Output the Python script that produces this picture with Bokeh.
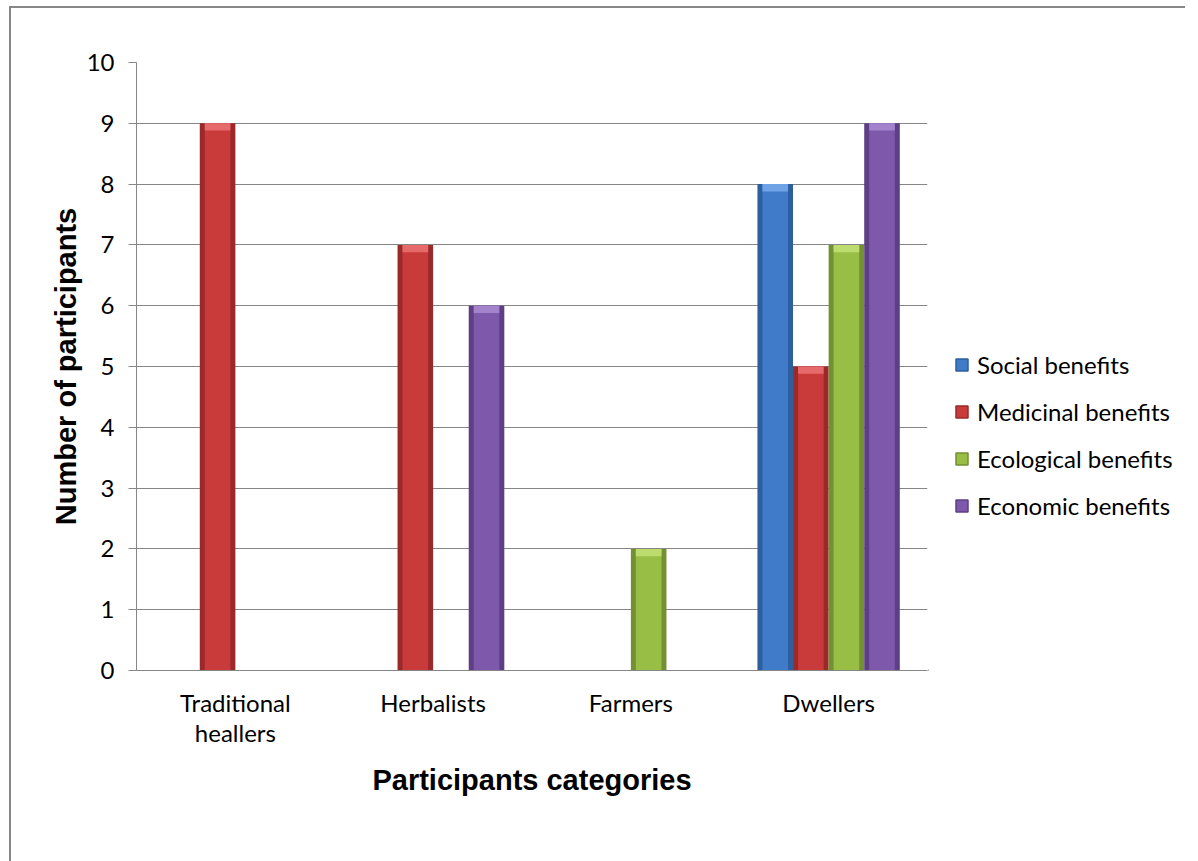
from bokeh.plotting import figure
from bokeh.layouts import row
from bokeh.models import (ColumnDataSource, Legend, LegendItem, Range1d,
                          FixedTicker, LinearAxis)
from bokeh.transform import dodge
from bokeh.embed import file_html
from bokeh.resources import INLINE

categories = ["Traditional heallers", "Herbalists", "Farmers", "Dwellers"]
label_line1 = ["Traditional", "Herbalists", "Farmers", "Dwellers"]
label_line2 = ["heallers", " ", " ", " "]
series_names = ["Social benefits", "Medicinal benefits", "Ecological benefits", "Economic benefits"]
social = [0, 0, 0, 8]
medicinal = [9, 7, 0, 5]
ecological = [0, 0, 2, 7]
economic = [0, 6, 0, 9]
y_ticks = [0, 1, 2, 3, 4, 5, 6, 7, 8, 9, 10]

series_values = [social, medicinal, ecological, economic]
main_colors = ["#3F7BC8", "#C93A3A", "#98BE45", "#7E58AA"]
edge_colors = ["#2D5E9E", "#9A2A2A", "#739033", "#5E3F85"]
cap_colors = ["#6FA3E6", "#E66A6A", "#BCDD6E", "#A283CC"]
offsets = [-0.27, -0.09, 0.09, 0.27]
bar_w = 0.18

GRID = "#868686"
idx = list(range(len(categories)))

p = figure(
    x_range=Range1d(-0.5, len(categories) - 0.5),
    y_range=Range1d(0, 10),
    width=917, height=853,
    output_backend="svg", toolbar_location=None,
    min_border_left=125, min_border_top=54, min_border_right=1, min_border_bottom=191,
)
p.outline_line_color = None
p.background_fill_color = "white"
p.border_fill_color = "white"

for name, vals, mc, ec, cc, off in zip(series_names, series_values, main_colors, edge_colors, cap_colors, offsets):
    src = ColumnDataSource(dict(idx=idx, val=vals, cap=[v - 0.12 if v > 0 else 0 for v in vals]))
    p.vbar(x=dodge("idx", off), top="val", bottom=0, width=bar_w,
           source=src, fill_color=ec, line_color=None)
    p.vbar(x=dodge("idx", off), top="val", bottom=0, width=bar_w * 0.72,
           source=src, fill_color=mc, line_color=None)
    p.vbar(x=dodge("idx", off), top="val", bottom="cap", width=bar_w * 0.72,
           source=src, fill_color=cc, line_color=None)

# y axis
p.yaxis.ticker = FixedTicker(ticks=y_ticks)
p.yaxis.axis_line_color = GRID
p.yaxis.major_tick_line_color = GRID
p.yaxis.major_tick_in = 0
p.yaxis.major_tick_out = 8
p.yaxis.minor_tick_line_color = None
p.yaxis.major_label_text_font = "Lato"
p.yaxis.major_label_text_font_size = "24px"
p.yaxis.major_label_text_color = "black"
p.yaxis.major_label_standoff = 14
p.yaxis.axis_label = "Number of participants"
p.yaxis.axis_label_text_font = "Liberation Sans"
p.yaxis.axis_label_text_font_style = "bold"
p.yaxis.axis_label_text_font_size = "29px"
p.yaxis.axis_label_text_color = "black"
p.yaxis.axis_label_standoff = 2

# x axis (first label line)
xa = p.xaxis[0]
xa.ticker = FixedTicker(ticks=idx)
xa.axis_line_color = GRID
xa.major_tick_line_color = None
xa.minor_tick_line_color = None
xa.major_tick_out = 0
xa.major_tick_in = 0
xa.major_label_overrides = dict(zip(idx, label_line1))
xa.major_label_text_font = "Lato"
xa.major_label_text_font_size = "24px"
xa.major_label_text_color = "black"
xa.major_label_standoff = 17

# second label line + axis title
xa2 = LinearAxis(
    ticker=FixedTicker(ticks=idx),
    axis_line_color=None, major_tick_line_color=None, major_tick_out=0, major_tick_in=0,
    minor_tick_line_color=None,
    major_label_overrides=dict(zip(idx, label_line2)),
    major_label_text_font="Lato", major_label_text_font_size="24px",
    major_label_text_color="black", major_label_standoff=-2,
    axis_label="Participants categories", axis_label_text_font="Liberation Sans",
    axis_label_text_font_style="bold", axis_label_text_font_size="29px",
    axis_label_text_color="black", axis_label_standoff=14,
)
p.add_layout(xa2, "below")

p.xgrid.grid_line_color = None
p.ygrid.grid_line_color = GRID
p.ygrid.grid_line_width = 1

# legend panel (swatch renderers sit outside the visible range; only their legend glyphs show)
p2 = figure(width=257, height=853, x_axis_type=None, y_axis_type=None,
            x_range=Range1d(0, 1), y_range=Range1d(0, 1),
            output_backend="svg", toolbar_location=None,
            min_border_left=0, min_border_right=0, min_border_top=0, min_border_bottom=0)
p2.outline_line_color = None
p2.background_fill_color = "white"
p2.border_fill_color = "white"
items = []
for name, mc, ec in zip(series_names, main_colors, edge_colors):
    r = p2.vbar(x=[-10], top=[0], width=0.1, fill_color=mc, line_color=ec, line_width=1.5)
    items.append(LegendItem(label=name, renderers=[r]))
legend = Legend(items=items, location=(26, 150), orientation="vertical",
                glyph_width=15, glyph_height=15, label_standoff=8, spacing=18,
                padding=0, margin=0, border_line_color=None, background_fill_alpha=0,
                label_text_font="Lato", label_text_font_size="24px", label_text_color="black")
p2.add_layout(legend, "center")

layout = row(p, p2, styles={"border-left": "2px solid #878787", "border-top": "2px solid #878787",
                            "margin-left": "9px", "margin-top": "6px"})

open("out.html", "w").write(file_html(layout, INLINE))
